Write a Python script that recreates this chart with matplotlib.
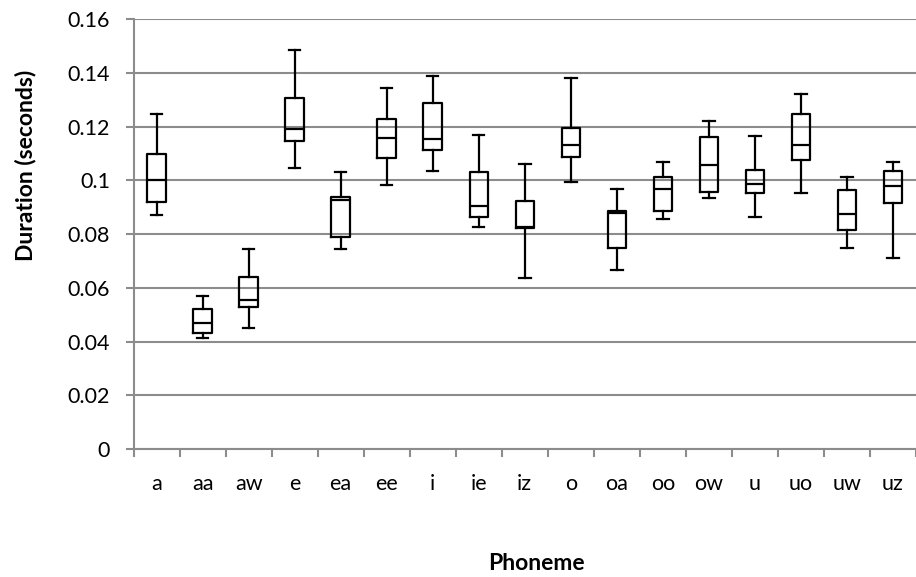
import matplotlib
matplotlib.use("Agg")
import matplotlib.pyplot as plt
from matplotlib.ticker import FixedLocator

plt.rcParams['font.family'] = ['Lato', 'DejaVu Sans']

categories = ['a', 'aa', 'aw', 'e', 'ea', 'ee', 'i', 'ie', 'iz', 'o', 'oa',
              'oo', 'ow', 'u', 'uo', 'uw', 'uz']
whisker_low = [0.0870, 0.0412, 0.0451, 0.1045, 0.0743, 0.0983, 0.1036, 0.0825,
               0.0635, 0.0995, 0.0668, 0.0858, 0.0933, 0.0862, 0.0954, 0.0750, 0.0713]
q1 = [0.0919, 0.0433, 0.0527, 0.1148, 0.0791, 0.1083, 0.1114, 0.0862,
      0.0823, 0.1088, 0.0749, 0.0885, 0.0956, 0.0954, 0.1076, 0.0816, 0.0916]
median = [0.1000, 0.0468, 0.0555, 0.1191, 0.0926, 0.1158, 0.1153, 0.0903,
          0.0827, 0.1132, 0.0877, 0.0967, 0.1057, 0.0988, 0.1132, 0.0875, 0.0980]
q3 = [0.1099, 0.0522, 0.0642, 0.1306, 0.0940, 0.1228, 0.1287, 0.1031,
      0.0923, 0.1197, 0.0885, 0.1011, 0.1160, 0.1038, 0.1246, 0.0965, 0.1034]
whisker_high = [0.1248, 0.0571, 0.0746, 0.1485, 0.1032, 0.1343, 0.1389, 0.1168,
                0.1060, 0.1380, 0.0968, 0.1069, 0.1223, 0.1165, 0.1322, 0.1011, 0.1069]
ytick_values = [0, 0.02, 0.04, 0.06, 0.08, 0.1, 0.12, 0.14, 0.16]
ytick_labels = ['0', '0.02', '0.04', '0.06', '0.08', '0.1', '0.12', '0.14', '0.16']
x_title = 'Phoneme'
y_title = 'Duration (seconds)'

stats = [dict(label=c, whislo=lo, q1=a, med=m, q3=b, whishi=hi, fliers=[])
         for c, lo, a, m, b, hi in zip(categories, whisker_low, q1, median, q3, whisker_high)]

W, H = 916, 577
fig = plt.figure(figsize=(W / 100, H / 100), dpi=100)
ax = fig.add_axes([133.5 / W, 1 - 449 / H, (W - 133.5) / W, (449 - 19.3) / H])

grid_color = '#8c8c8c'
ax.set_ylim(0, 0.16)
ax.set_xlim(0.5, len(categories) + 0.5)
ax.yaxis.set_major_locator(FixedLocator(ytick_values))
ax.set_yticklabels(ytick_labels)
ax.grid(axis='y', color=grid_color, linewidth=1.5, zorder=0)
ax.set_axisbelow(True)

lw = 1.6
ax.bxp(stats, positions=range(1, len(categories) + 1), widths=0.4, capwidths=0.25,
       showfliers=False, patch_artist=False,
       boxprops=dict(color='black', linewidth=lw),
       medianprops=dict(color='black', linewidth=lw),
       whiskerprops=dict(color='black', linewidth=lw),
       capprops=dict(color='black', linewidth=lw))

ax.set_xticks(range(1, len(categories) + 1))
ax.set_xticklabels(categories)
ax.set_xticks([i + 0.5 for i in range(0, len(categories) + 1)], minor=True)
ax.tick_params(axis='x', which='major', length=0, pad=18, labelsize=15.5, colors='black')
ax.tick_params(axis='x', which='minor', length=5.5, width=1.5, color=grid_color)
ax.tick_params(axis='y', which='major', length=5.8, width=1.5, color=grid_color,
               labelsize=15.5, pad=11)

for side in ['top', 'right']:
    ax.spines[side].set_visible(False)
for side in ['left', 'bottom']:
    ax.spines[side].set_color(grid_color)
    ax.spines[side].set_linewidth(1.5)

fig.text(32 / W, 1 - 165 / H, y_title, rotation=90, rotation_mode='anchor',
         ha='center', va='baseline', fontsize=16.5, fontweight='bold')
fig.text(536 / W, 1 - 574.5 / H, x_title, ha='center', va='bottom',
         fontsize=16.5, fontweight='bold')

fig.savefig('out.png', dpi=100)
